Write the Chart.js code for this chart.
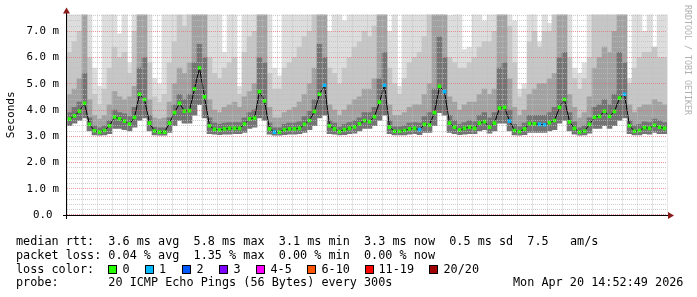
<!DOCTYPE html>
<html>
<head>
<meta charset="utf-8">
<title>Smokeping - median rtt</title>
<script src="https://cdn.jsdelivr.net/npm/chart.js@4.4.1/dist/chart.umd.min.js"></script>
<style>
  body { margin: 0; background: #fff; }
  #wrap { position: relative; width: 697px; height: 297px; overflow: hidden; }
  #chart { position: absolute; left: 0; top: 0; }
  .row { position: absolute; left: 16px; font: 11.8px 'DejaVu Sans Mono', monospace; line-height: 14px; white-space: pre; color: #000; }
  .box { position: absolute; top: 265px; width: 9px; height: 9px; box-sizing: border-box; border: 1px solid #000; }
  .lbl { position: absolute; top: 261.5px; font: 11.8px 'DejaVu Sans Mono', monospace; line-height: 14px; white-space: pre; color: #000; }
  #mark { position: absolute; left: 684px; top: 5px; writing-mode: vertical-rl; font: 8.3px 'DejaVu Sans Mono', monospace; line-height: 8px; color: #b0b0b0; white-space: pre; }
</style>
</head>
<body>
<div id="wrap">
  <canvas id="chart" width="697" height="297"></canvas>
  <div id="mark">RRDTOOL / TOBI OETIKER</div>
  <div class="row" style="top:234px">median rtt:  3.6 ms avg  5.8 ms max  3.1 ms min  3.3 ms now  0.5 ms sd  7.5   am/s</div>
  <div class="row" style="top:247.5px">packet loss: 0.04 % avg  1.35 % max  0.00 % min  0.00 % now</div>
  <div class="row" style="top:261.5px">loss color:</div>
  <div id="lossLegend"></div>
  <div class="row" style="top:275px">probe:       20 ICMP Echo Pings (56 Bytes) every 300s</div>
  <div class="row" style="top:275px;left:513px">Mon Apr 20 14:52:49 2026</div>
</div>
<script>
// time axis in hours since Apr 10 00:00, one value every 2 hours
const startHour = 15.5;
const endHour = 255.5;
const binHours = 2;

const dayLabels = ['11 Apr', '12 Apr', '13 Apr', '14 Apr', '15 Apr', '16 Apr', '17 Apr', '18 Apr', '19 Apr', '20 Apr'];

// median rtt (ms)
const medianMs = [
  3.65, 3.78, 3.96, 4.25, 3.45, 3.21, 3.16, 3.22, 3.40, 3.74,
  3.66, 3.58, 3.46, 3.72, 4.60, 4.40, 3.50, 3.20, 3.16, 3.16,
  3.50, 3.90, 4.25, 3.96, 3.98, 4.80, 5.60, 4.50, 3.40, 3.26,
  3.24, 3.28, 3.30, 3.30, 3.30, 3.46, 3.66, 3.69, 4.70, 4.35,
  3.28, 3.16, 3.16, 3.25, 3.28, 3.28, 3.30, 3.45, 3.60, 3.95,
  4.60, 4.95, 3.40, 3.28, 3.18, 3.25, 3.30, 3.36, 3.47, 3.60,
  3.56, 3.75, 4.30, 4.95, 3.35, 3.19, 3.19, 3.22, 3.28, 3.30,
  3.25, 3.45, 3.43, 3.90, 4.90, 4.70, 3.50, 3.35, 3.24, 3.30,
  3.35, 3.30, 3.50, 3.56, 3.35, 3.50, 4.07, 4.10, 3.58, 3.22,
  3.18, 3.28, 3.48, 3.47, 3.45, 3.44, 3.52, 3.60, 4.10, 4.40,
  3.55, 3.30, 3.16, 3.20, 3.45, 3.73, 3.76, 3.96, 3.76, 3.95,
  4.45, 4.60, 3.40, 3.19, 3.22, 3.33, 3.30, 3.42, 3.35, 3.30
];

// smoke: bottom of the ping spread and the tops of each shade (ms, 9 = off the top)
const smokeLow = [
  3.40, 3.50, 3.60, 3.70, 3.20, 3.05, 3.04, 3.05, 3.10, 3.30,
  3.30, 3.25, 3.20, 3.35, 3.60, 3.70, 3.20, 3.05, 3.04, 3.04,
  3.15, 3.40, 3.60, 3.50, 3.50, 3.80, 4.20, 3.70, 3.10, 3.08,
  3.06, 3.08, 3.08, 3.10, 3.10, 3.15, 3.30, 3.35, 3.70, 3.60,
  3.08, 3.04, 3.04, 3.06, 3.08, 3.08, 3.10, 3.15, 3.25, 3.40,
  3.70, 3.80, 3.10, 3.08, 3.05, 3.06, 3.10, 3.12, 3.20, 3.30,
  3.30, 3.40, 3.60, 3.80, 3.10, 3.05, 3.05, 3.05, 3.08, 3.10,
  3.06, 3.15, 3.15, 3.40, 3.90, 3.80, 3.15, 3.10, 3.06, 3.08,
  3.10, 3.10, 3.20, 3.25, 3.12, 3.20, 3.50, 3.50, 3.20, 3.05,
  3.04, 3.06, 3.15, 3.15, 3.15, 3.15, 3.20, 3.25, 3.50, 3.60,
  3.20, 3.08, 3.04, 3.05, 3.12, 3.30, 3.30, 3.40, 3.30, 3.40,
  3.60, 3.70, 3.10, 3.05, 3.05, 3.10, 3.08, 3.15, 3.10, 3.10
];
const smokeDark = [
  3.9, 4.1, 4.3, 5.4, 3.7, 3.4, 3.32, 3.4, 3.6, 4.0,
  3.9, 3.85, 3.75, 4.1, 5.6, 6.0, 3.8, 3.35, 3.32, 3.32,
  3.7, 4.2, 4.6, 4.4, 4.6, 5.8, 6.5, 6.0, 3.7, 3.5,
  3.45, 3.5, 3.52, 3.52, 3.52, 3.7, 3.9, 4.0, 6.0, 5.8,
  3.5, 3.32, 3.32, 3.45, 3.5, 3.5, 3.55, 3.75, 3.95, 4.4,
  6.5, 6.0, 3.6, 3.5, 3.35, 3.45, 3.52, 3.6, 3.7, 3.9,
  3.9, 4.1, 5.2, 6.2, 3.6, 3.36, 3.36, 3.4, 3.5, 3.52,
  3.5, 3.75, 3.9, 4.8, 6.8, 6.0, 3.8, 3.6, 3.45, 3.52,
  3.6, 3.55, 3.8, 3.9, 3.7, 3.9, 5.6, 5.8, 4.0, 3.45,
  3.36, 3.5, 3.8, 3.8, 3.8, 3.8, 3.9, 4.1, 6.0, 6.2,
  3.9, 3.55, 3.32, 3.4, 3.7, 4.1, 4.2, 4.4, 4.2, 4.6,
  6.2, 5.8, 3.6, 3.4, 3.45, 3.55, 3.52, 3.65, 3.6, 3.52
];
const smokeMid = [
  4.6, 4.8, 5.2, 9, 4.4, 3.8, 3.65, 3.8, 4.2, 4.7,
  4.5, 4.4, 4.5, 4.9, 9, 9, 4.4, 3.7, 3.65, 3.7,
  4.3, 5.0, 5.6, 5.4, 5.8, 9, 9, 9, 4.4, 4.0,
  3.9, 4.1, 4.2, 4.3, 4.1, 4.5, 4.7, 5.0, 9, 9,
  4.1, 3.7, 3.7, 3.9, 4.0, 4.1, 4.3, 4.6, 5.0, 5.6,
  9, 9, 4.2, 4.0, 3.8, 4.0, 4.2, 4.4, 4.5, 4.8,
  4.8, 5.2, 9, 9, 4.2, 3.8, 3.8, 3.9, 4.1, 4.2,
  4.2, 4.6, 5.0, 9, 9, 9, 4.5, 4.3, 4.0, 4.2,
  4.3, 4.3, 4.6, 4.8, 4.6, 4.8, 9, 9, 5.2, 4.1,
  3.8, 4.0, 4.6, 4.8, 5.0, 5.0, 5.2, 5.4, 9, 9,
  4.6, 4.1, 3.7, 3.9, 4.5, 5.6, 6.0, 6.4, 6.2, 7.0,
  9, 9, 4.2, 3.9, 4.1, 4.2, 4.2, 4.4, 4.3, 4.2
];
const smokeLight = [
  6.2, 6.6, 7.0, 9, 6.0, 4.6, 4.2, 4.8, 5.6, 6.4,
  6.0, 6.2, 5.4, 7.0, 9, 9, 5.8, 4.5, 4.3, 4.6,
  5.8, 6.6, 9, 7.2, 9, 9, 9, 9, 6.0, 5.4,
  5.2, 5.6, 5.8, 6.0, 4.6, 6.2, 6.8, 7.0, 9, 9,
  5.4, 4.8, 4.8, 5.6, 5.8, 6.0, 6.4, 6.8, 7.0, 9,
  9, 9, 5.6, 5.4, 5.0, 5.6, 6.0, 6.4, 6.6, 7.0,
  6.8, 7.2, 9, 9, 5.6, 5.0, 4.6, 5.2, 5.8, 6.0,
  6.2, 6.8, 9, 9, 9, 9, 6.0, 5.8, 5.6, 5.6,
  5.8, 6.0, 6.4, 6.6, 6.6, 7.0, 9, 9, 7.2, 5.8,
  4.5, 4.8, 6.6, 7.0, 6.4, 7.0, 7.0, 9, 9, 9,
  6.0, 5.2, 4.8, 5.2, 6.0, 9, 9, 9, 9, 9,
  9, 9, 5.0, 5.6, 6.0, 6.2, 6.2, 6.4, 6.0, 6.0
];
const smokeTop = [
  9, 9, 9, 9, 9, 5.6, 4.9, 9, 9, 9,
  6.9, 9, 5.8, 9, 9, 9, 9, 5.2, 5.0, 9,
  9, 9, 9, 9, 9, 9, 9, 9, 9, 9,
  9, 6.2, 9, 9, 4.9, 9, 9, 9, 9, 9,
  9, 5.6, 5.3, 9, 9, 9, 9, 9, 9, 9,
  9, 9, 7.0, 9, 9, 7.4, 9, 9, 9, 9,
  9, 9, 9, 9, 7.0, 9, 4.9, 9, 9, 9,
  9, 9, 9, 9, 9, 9, 7.6, 9, 9, 6.3,
  6.4, 9, 9, 7.4, 9, 9, 9, 9, 9, 7.4,
  4.8, 5.0, 9, 9, 6.6, 9, 7.3, 9, 9, 9,
  9, 5.6, 5.4, 5.8, 9, 9, 9, 9, 9, 9,
  9, 9, 5.2, 9, 9, 7.0, 9, 6.4, 9, 9
];

// bins where 1 of 20 pings was lost
const lossBins = [41, 51, 63, 70, 75, 88, 94, 95, 111];

const lossLegend = [
  ['0', '#26ff00'], ['1', '#00b8ff'], ['2', '#0059ff'], ['3', '#7e00ff'],
  ['4-5', '#ff00ff'], ['6-10', '#ff5500'], ['11-19', '#ff0000'], ['20/20', '#a10000']
];
const legendBoxX = [108, 145, 182, 219, 256, 307, 365, 429];
const legendTextX = [122.5, 159, 196.5, 233.5, 270.5, 321.5, 378.5, 443.5];

const monoFont = "'DejaVu Sans Mono', monospace";

// legend boxes under the graph
const legendHolder = document.getElementById('lossLegend');
lossLegend.forEach(function(item, i) {
    const box = document.createElement('div');
    box.className = 'box';
    box.style.left = legendBoxX[i] + 'px';
    box.style.background = item[1];
    legendHolder.appendChild(box);
    const txt = document.createElement('div');
    txt.className = 'lbl';
    txt.style.left = legendTextX[i] + 'px';
    txt.textContent = item[0];
    legendHolder.appendChild(txt);
});

const binTime = medianMs.map((_, i) => startHour + binHours * (i + 0.5));

function band(lower, upper) {
    return lower.map((v, i) => ({ x: binTime[i], y: [v, upper[i]] }));
}

const smokeBar = {
    type: 'bar',
    barPercentage: 1,
    categoryPercentage: 1,
    grouped: false,
    borderWidth: 0,
    order: 1
};

const datasets = [
    {
        type: 'line',
        label: 'median rtt',
        data: medianMs.map((v, i) => ({ x: binTime[i], y: v })),
        borderColor: '#000',
        borderWidth: 1,
        tension: 0,
        pointStyle: 'rect',
        pointRadius: 2.6,
        pointBorderWidth: 0,
        pointBackgroundColor: medianMs.map((v, i) => lossBins.includes(i) ? lossLegend[1][1] : lossLegend[0][1]),
        order: 0
    },
    { ...smokeBar, label: 'smoke 1', data: band(smokeLow, smokeDark), backgroundColor: '#747474' },
    { ...smokeBar, label: 'smoke 2', data: band(smokeDark, smokeMid), backgroundColor: '#a2a2a2' },
    { ...smokeBar, label: 'smoke 3', data: band(smokeMid, smokeLight), backgroundColor: '#c6c6c6' },
    { ...smokeBar, label: 'smoke 4', data: band(smokeLight, smokeTop), backgroundColor: '#dddddd' }
];

// axis lines with the small arrow heads
const axisArrows = {
    id: 'axisArrows',
    afterDraw(chart) {
        const { ctx, chartArea: a } = chart;
        ctx.save();
        ctx.strokeStyle = '#000';
        ctx.lineWidth = 1;
        ctx.beginPath();
        ctx.moveTo(a.left - 4, a.bottom + 0.5);
        ctx.lineTo(a.right + 2, a.bottom + 0.5);
        ctx.moveTo(a.left - 0.5, a.bottom + 4);
        ctx.lineTo(a.left - 0.5, a.top - 2);
        ctx.stroke();
        ctx.fillStyle = '#8b1a1a';
        ctx.beginPath();
        ctx.moveTo(a.left - 0.5, a.top - 7);
        ctx.lineTo(a.left - 4, a.top - 1);
        ctx.lineTo(a.left + 3, a.top - 1);
        ctx.closePath();
        ctx.fill();
        ctx.beginPath();
        ctx.moveTo(a.right + 7, a.bottom + 0.5);
        ctx.lineTo(a.right + 1, a.bottom - 3);
        ctx.lineTo(a.right + 1, a.bottom + 4);
        ctx.closePath();
        ctx.fill();
        ctx.restore();
    }
};

const minorGrid = 'rgba(190, 190, 190, 0.75)';
const majorGrid = 'rgba(225, 110, 110, 0.7)';

new Chart(document.getElementById('chart').getContext('2d'), {
    type: 'bar',
    data: { datasets: datasets },
    options: {
        responsive: false,
        animation: false,
        events: [],
        layout: { padding: { left: 0, right: 30, top: 14, bottom: 0 } },
        plugins: {
            legend: { display: false },
            tooltip: { enabled: false }
        },
        scales: {
            x: {
                type: 'linear',
                min: startHour,
                max: endHour,
                offset: false,
                afterFit: function(scale) { scale.height = 82; },
                grid: {
                    z: 1,
                    offset: false,
                    drawTicks: false,
                    color: ctx => (ctx.tick && ctx.tick.value % 24 === 0) ? majorGrid : minorGrid
                },
                border: { display: false, dash: [1, 1] },
                ticks: {
                    stepSize: 6,
                    includeBounds: false,
                    autoSkip: false,
                    maxRotation: 0,
                    minRotation: 0,
                    padding: 4,
                    color: '#000',
                    font: { family: monoFont, size: 10.8 },
                    callback: function(value) {
                        return value % 24 === 12 ? dayLabels[(value - 36) / 24] : '';
                    }
                }
            },
            y: {
                min: 0,
                max: 7.64,
                afterFit: function(scale) { scale.width = 67; },
                grid: {
                    z: 1,
                    drawTicks: false,
                    color: ctx => (ctx.tick && Math.abs(ctx.tick.value - Math.round(ctx.tick.value)) < 1e-6) ? majorGrid : minorGrid
                },
                border: { display: false, dash: [1, 1] },
                title: {
                    display: true,
                    text: 'Seconds',
                    color: '#000',
                    font: { family: monoFont, size: 11.2, weight: 'normal' },
                    padding: { top: 4, bottom: 0 }
                },
                ticks: {
                    stepSize: 0.2,
                    includeBounds: false,
                    autoSkip: false,
                    padding: 8,
                    color: '#000',
                    font: { family: monoFont, size: 10.8 },
                    callback: function(value) {
                        if (Math.abs(value - Math.round(value)) > 1e-6) return '';
                        return value === 0 ? '0.0 ' : value.toFixed(1) + ' m';
                    }
                }
            }
        }
    },
    plugins: [axisArrows]
});
</script>
</body>
</html>
